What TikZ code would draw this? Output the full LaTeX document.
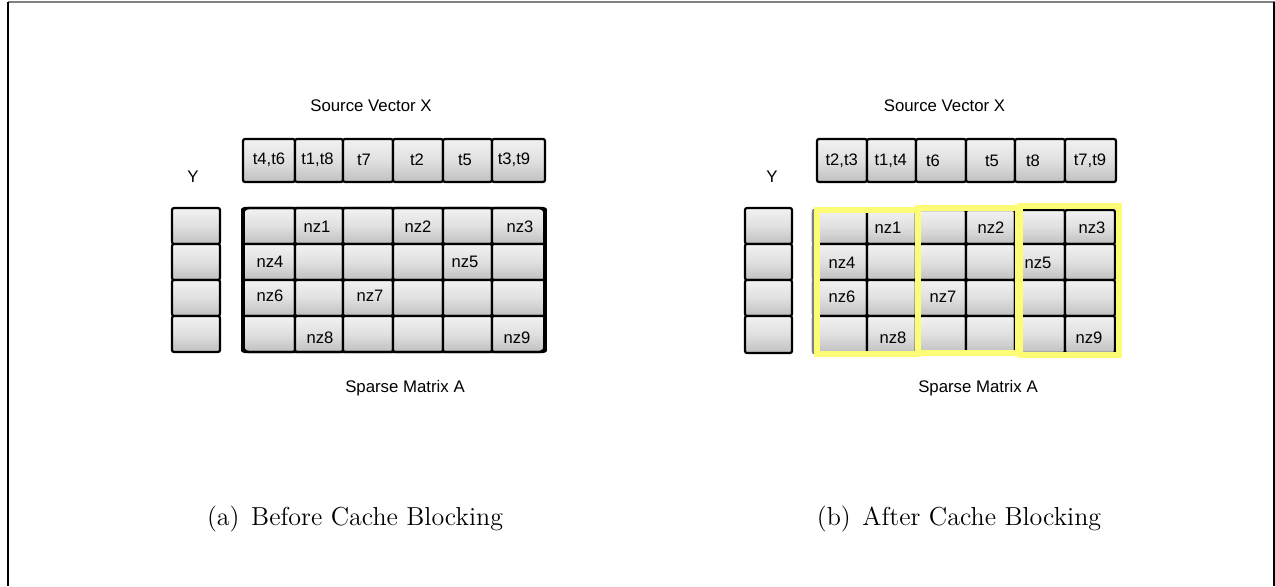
\documentclass[tikz,border=0pt]{standalone}
\usepackage{fontspec}
\setsansfont{Liberation Sans}
\usetikzlibrary{fit}
\definecolor{cellTop}{RGB}{242,242,242}
\definecolor{cellMid}{RGB}{224,224,224}
\definecolor{cellBot}{RGB}{192,192,192}
\definecolor{blockYellow}{RGB}{252,252,118}
\definecolor{frameGray}{RGB}{128,128,128}
\begin{document}
\begin{tikzpicture}[x=0.5pt,y=-0.5pt,
  cell/.style={draw=black, line width=1.1pt, rounded corners=1pt,
    top color=cellTop, bottom color=cellBot, middle color=cellMid,
    inner sep=0pt, outer sep=0pt},
  lab/.style={font=\sffamily\fontsize{8.3}{10}\selectfont, inner sep=0pt},
  head/.style={font=\sffamily\fontsize{8.4}{10}\selectfont, inner sep=0pt},
  capt/.style={font=\fontsize{13}{15}\selectfont, inner sep=0pt},
  block/.style={draw=blockYellow, line width=3.2pt}]
\useasboundingbox (0,0) rectangle (1275,586);

% page frame
\draw[frameGray, line width=0.8pt] (8,2) -- (1275,2);
\draw[black, line width=0.8pt] (8,2) -- (8,586);
\draw[black, line width=1pt] (1273.5,2) -- (1273.5,586);

% ---------------- (a) before cache blocking ----------------
\node[head] (srcA) at (371,106) {Source Vector X};
\node[head] (yA) at (193,177) {Y};
\foreach \xa/\xb [count=\c] in {243/295,295/343,343/393,393/443,443/492,492/545}
  \node[cell, fit={(\xa,139)(\xb,182)}] (xa-\c) {};
\node[lab] (xa-t1) at (269,160) {t4,t6};
\node[lab] (xa-t2) at (317.5,160) {t1,t8};
\node[lab] (xa-t3) at (364,160) {t7};
\node[lab] (xa-t4) at (417,160) {t2};
\node[lab] (xa-t5) at (465,160) {t5};
\node[lab] (xa-t6) at (514,160) {t3,t9};

\foreach \ya/\yb [count=\r] in {208/244,244/280,280/316,316/352}
  \node[cell, fit={(172,\ya)(220,\yb)}] (ya-\r) {};

\foreach \ya/\yb [count=\r] in {208/244,244/280,280/316,316/352}
  \foreach \xa/\xb [count=\c] in {243/295,295/343,343/393,393/443,443/492,492/545}
    \node[cell, fit={(\xa,\ya)(\xb,\yb)}] (aa-\r-\c) {};
\draw[line width=1.2pt, rounded corners=3pt] (aa-1-1.north west) rectangle (aa-4-6.south east);
\draw[line width=2.4pt, line cap=round] ([yshift=-1pt]aa-1-1.north west) -- ([yshift=1pt]aa-4-1.south west);
\draw[line width=2.4pt, line cap=round] ([yshift=-1pt]aa-1-6.north east) -- ([yshift=1pt]aa-4-6.south east);

\node[lab] (na1) at (317,227) {nz1};
\node[lab] (na2) at (418,227) {nz2};
\node[lab] (na3) at (520,227) {nz3};
\node[lab] (na4) at (270,262) {nz4};
\node[lab] (na5) at (465,262) {nz5};
\node[lab] (na6) at (270,296) {nz6};
\node[lab] (na7) at (370,296) {nz7};
\node[lab] (na8) at (320,338) {nz8};
\node[lab] (na9) at (517,338) {nz9};

\node[head] (matA) at (405,388) {Sparse Matrix A};
\node[capt, anchor=base] (capA) at (355,525) {(a)\hspace{0.45em}Before Cache Blocking};

% ---------------- (b) after cache blocking ----------------
\node[head] (srcB) at (944.5,106) {Source Vector X};
\node[head] (yB) at (772,177) {Y};
\foreach \xa/\xb [count=\c] in {817/867,867/916,916/966,966/1015,1015/1065,1065/1116}
  \node[cell, fit={(\xa,139)(\xb,182)}] (xb-\c) {};
\node[lab] (xb-t1) at (841.7,161) {t2,t3};
\node[lab] (xb-t2) at (890.7,161) {t1,t4};
\node[lab] (xb-t3) at (933,161) {t6};
\node[lab] (xb-t4) at (992,161) {t5};
\node[lab] (xb-t5) at (1033,161) {t8};
\node[lab] (xb-t6) at (1090,161) {t7,t9};

\foreach \ya/\yb [count=\r] in {208/244,244/280,280/316,316/353}
  \node[cell, fit={(745,\ya)(792,\yb)}] (yb-\r) {};

\foreach \ya/\yb [count=\r] in {210/244,244/280,280/316,316/353}
  \foreach \xa/\xb [count=\c] in {813/867,867/916,916/966,966/1015,1015/1065,1065/1115}
    \node[cell, fit={(\xa,\ya)(\xb,\yb)}] (ab-\r-\c) {};
\draw[frameGray, line width=0.6pt] (ab-1-1.north west) -- (ab-4-1.south west);

% cache blocks, two columns each
\draw[block] (817,210) rectangle (918,354);
\draw[block] (918,208) rectangle (1018,353);
\draw[block] (1020,206) rectangle (1119,355);

\node[lab] (nb1) at (888,228) {nz1};
\node[lab] (nb2) at (991,228) {nz2};
\node[lab] (nb3) at (1092,228) {nz3};
\node[lab] (nb4) at (842,263) {nz4};
\node[lab] (nb5) at (1038,263) {nz5};
\node[lab] (nb6) at (842,297) {nz6};
\node[lab] (nb7) at (943,297) {nz7};
\node[lab] (nb8) at (893,338) {nz8};
\node[lab] (nb9) at (1089,338) {nz9};

\node[head] (matB) at (978,388) {Sparse Matrix A};
\node[capt, anchor=base] (capB) at (959,525) {(b)\hspace{0.45em}After Cache Blocking};
\end{tikzpicture}
\end{document}
